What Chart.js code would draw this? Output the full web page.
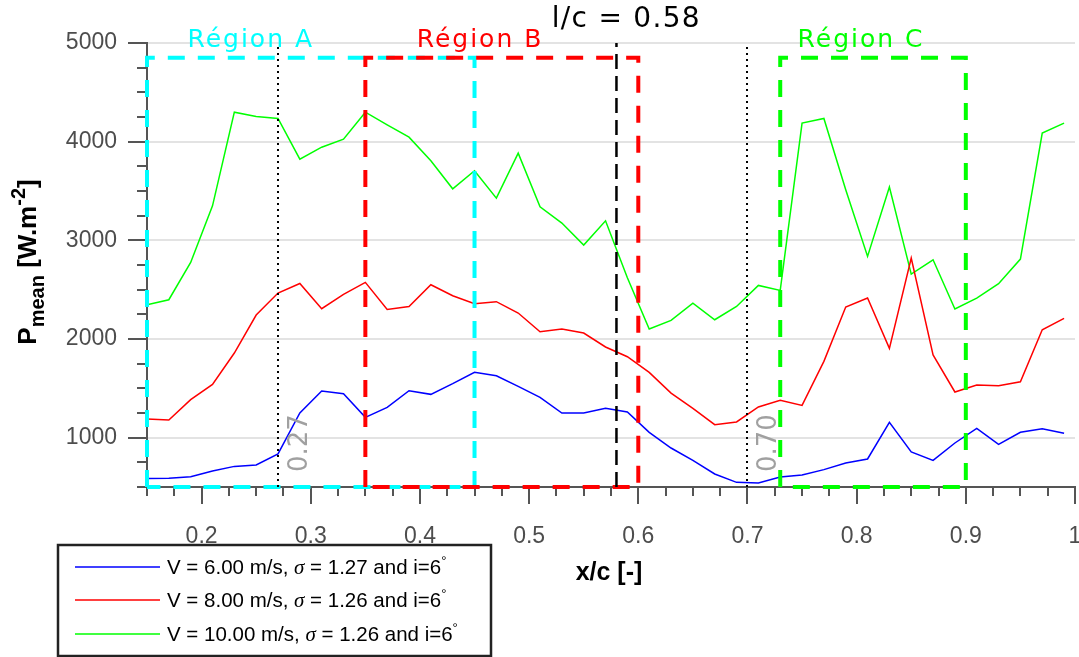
<!DOCTYPE html>
<html>
<head>
<meta charset="utf-8">
<script src="https://cdn.jsdelivr.net/npm/chart.js@4.4.0/dist/chart.umd.min.js"></script>
<style>
  html, body { margin: 0; padding: 0; background: #fff; }
  #wrap { width: 1079px; height: 657px; }
</style>
</head>
<body>
<div id="wrap"><canvas id="pmeanChart" width="1079" height="657"></canvas></div>
<script>
// --- Data ---
const xPositions = [0.15, 0.17, 0.19, 0.21, 0.23, 0.25, 0.27, 0.29, 0.31, 0.33, 0.35,
    0.37, 0.39, 0.41, 0.43, 0.45, 0.47, 0.49, 0.51, 0.53, 0.55, 0.57, 0.59,
    0.61, 0.63, 0.65, 0.67, 0.69, 0.71, 0.73, 0.75, 0.77, 0.79, 0.81,
    0.83, 0.85, 0.87, 0.89, 0.91, 0.93, 0.95, 0.97, 0.99];

const pmeanV6 = [585, 588, 605, 663, 709, 723, 835, 1250, 1473, 1446, 1206,
    1307, 1476, 1439, 1547, 1662, 1628, 1520, 1408, 1250, 1250, 1297, 1260,
    1054, 895, 770, 632, 547, 540, 602, 622, 676, 744, 784,
    1155, 855, 770, 946, 1094, 932, 1054, 1091, 1044];

const pmeanV8 = [1189, 1179, 1385, 1540, 1858, 2243, 2466, 2563, 2307, 2452, 2574,
    2300, 2330, 2550, 2438, 2357, 2378, 2263, 2074, 2101, 2060, 1919, 1820,
    1662, 1452, 1297, 1132, 1159, 1311, 1378, 1327, 1773, 2324, 2415,
    1905, 2820, 1838, 1463, 1534, 1527, 1567, 2094, 2209];

const pmeanV10 = [2347, 2398, 2776, 3350, 4299, 4255, 4235, 3823, 3944, 4025, 4299,
    4170, 4046, 3806, 3522, 3705, 3428, 3884, 3340, 3175, 2952, 3198, 2620,
    2101, 2188, 2364, 2195, 2330, 2543, 2492, 4188, 4235, 3512, 2837,
    3540, 2658, 2803, 2304, 2415, 2560, 2810, 4087, 4188];

const seriesColors = ['#0000ff', '#ff0000', '#00ff00'];
const legendSpeeds = ['6.00', '8.00', '10.00'];
const legendSigmas = ['1.27', '1.26', '1.26'];
const legendIncidence = '6';

const xMajorTicks = [0.2, 0.3, 0.4, 0.5, 0.6, 0.7, 0.8, 0.9, 1.0];
const xTickLabels = ['0.2', '0.3', '0.4', '0.5', '0.6', '0.7', '0.8', '0.9', '1'];
const yMajorTicks = [1000, 2000, 3000, 4000, 5000];
const yTickLabels = ['1000', '2000', '3000', '4000', '5000'];

// regions and markers
const regionNames = ['Région A', 'Région B', 'Région C'];
const regionStart = [0.15, 0.35, 0.73];
const regionEnd = [0.45, 0.60, 0.90];
const regionTop = 4850;
const regionColors = ['#00ffff', '#ff0000', '#00ff00'];
const regionLabelX = [0.245, 0.455, 0.804];
const lcPosition = 0.58;
const lcLabel = 'l/c = 0.58';
const dottedPositions = [0.27, 0.70];
const dottedLabels = ['0.27', '0.70'];

const isNear = (a, b) => Math.abs(a - b) < 1e-6;

// draw a run of text pieces with their own font / vertical shift
const drawParts = (ctx, parts, x, y) => {
    parts.forEach(p => {
        ctx.font = p.font;
        ctx.fillText(p.text, x, y + (p.dy || 0));
        x += ctx.measureText(p.text).width;
    });
};
const partsWidth = (ctx, parts) => parts.reduce((w, p) => {
    ctx.font = p.font;
    return w + ctx.measureText(p.text).width;
}, 0);

const overlayPlugin = {
    id: 'overlay',
    afterDraw(chart) {
        const { ctx, chartArea: area, scales: { x, y } } = chart;
        ctx.save();

        // --- tick marks (outside) ---
        ctx.strokeStyle = '#555';
        ctx.lineWidth = 2;
        x.ticks.forEach(t => {
            const px = Math.round(x.getPixelForValue(t.value));
            const len = xMajorTicks.some(m => isNear(m, t.value)) ? 17 : 9;
            ctx.beginPath();
            ctx.moveTo(px, area.bottom);
            ctx.lineTo(px, area.bottom + len);
            ctx.stroke();
        });
        y.ticks.forEach(t => {
            const py = Math.round(y.getPixelForValue(t.value));
            const len = yMajorTicks.includes(t.value) ? 19 : 10;
            ctx.beginPath();
            ctx.moveTo(area.left, py);
            ctx.lineTo(area.left - len, py);
            ctx.stroke();
        });

        // --- region rectangles ---
        ctx.lineWidth = 4;
        ctx.setLineDash([17, 13]);
        regionNames.forEach((name, i) => {
            const x0 = x.getPixelForValue(regionStart[i]);
            const x1 = x.getPixelForValue(regionEnd[i]);
            const y0 = y.getPixelForValue(regionTop);
            const y1 = y.getPixelForValue(y.min);
            ctx.strokeStyle = regionColors[i];
            ctx.beginPath();
            ctx.moveTo(x0, y1);
            ctx.lineTo(x0, y0);
            ctx.lineTo(x1, y0);
            ctx.lineTo(x1, y1);
            ctx.lineTo(x0, y1);
            ctx.stroke();
        });

        // --- l/c dashed line ---
        const lx = x.getPixelForValue(lcPosition);
        ctx.strokeStyle = '#000';
        ctx.lineWidth = 2.5;
        ctx.setLineDash([15, 7]);
        ctx.beginPath();
        ctx.moveTo(lx, area.bottom);
        ctx.lineTo(lx, area.top);
        ctx.stroke();

        // --- dotted lines ---
        ctx.lineWidth = 2;
        ctx.setLineDash([2, 4]);
        dottedPositions.forEach(v => {
            const px = Math.round(x.getPixelForValue(v));
            ctx.beginPath();
            ctx.moveTo(px, area.bottom);
            ctx.lineTo(px, area.top);
            ctx.stroke();
        });
        ctx.setLineDash([]);

        // rotated labels next to dotted lines
        ctx.fillStyle = '#a0a0a0';
        ctx.font = '26px "DejaVu Sans"';
        ctx.textAlign = 'left';
        ctx.textBaseline = 'alphabetic';
        dottedLabels.forEach((label, i) => {
            const px = x.getPixelForValue(dottedPositions[i]);
            ctx.save();
            ctx.translate(px + 29, area.bottom - 15);
            ctx.rotate(-Math.PI / 2);
            ctx.fillText(label, 0, 0);
            ctx.restore();
        });

        // --- region labels ---
        ctx.textAlign = 'center';
        ctx.font = '25px "DejaVu Sans"';
        ctx.letterSpacing = '2px';
        regionNames.forEach((name, i) => {
            ctx.fillStyle = regionColors[i];
            ctx.fillText(name, x.getPixelForValue(regionLabelX[i]), 47);
        });
        ctx.fillStyle = '#000';
        ctx.font = '28px "DejaVu Sans"';
        ctx.letterSpacing = '1.3px';
        ctx.fillText(lcLabel, x.getPixelForValue(0.589), 27);
        ctx.letterSpacing = '0px';

        // --- axis titles ---
        ctx.fillStyle = '#000';
        ctx.textAlign = 'center';
        ctx.font = 'bold 25px "Liberation Sans"';
        ctx.fillText('x/c [-]', 609, 580);

        const bold = s => `bold ${s}px "Liberation Sans"`;
        const yTitle = [
            { text: 'P', font: bold(26) },
            { text: 'mean', font: bold(20), dy: 8 },
            { text: ' [W.m', font: bold(26) },
            { text: '-2', font: bold(20), dy: -11 },
            { text: ']', font: bold(26) }
        ];
        ctx.save();
        ctx.translate(36, 262);
        ctx.rotate(-Math.PI / 2);
        ctx.textAlign = 'left';
        drawParts(ctx, yTitle, -partsWidth(ctx, yTitle) / 2, 0);
        ctx.restore();

        // --- legend box ---
        ctx.fillStyle = '#fff';
        ctx.fillRect(58, 545, 433, 111);
        ctx.strokeStyle = '#222';
        ctx.lineWidth = 2.5;
        ctx.strokeRect(58, 545, 433, 111);
        const rowY = [567, 600, 634];
        ctx.textAlign = 'left';
        chart.data.datasets.forEach((ds, i) => {
            ctx.strokeStyle = ds.borderColor;
            ctx.lineWidth = 1.5;
            ctx.beginPath();
            ctx.moveTo(75, rowY[i]);
            ctx.lineTo(160, rowY[i]);
            ctx.stroke();
            ctx.fillStyle = '#000';
            const sans = '20.5px "Liberation Sans"';
            drawParts(ctx, [
                { text: `V = ${legendSpeeds[i]} m/s, `, font: sans },
                { text: 'σ', font: 'italic 21px "Liberation Serif"' },
                { text: ` = ${legendSigmas[i]} and i=${legendIncidence}`, font: sans },
                { text: '°', font: '13px "Liberation Sans"', dy: -9 }
            ], 167, rowY[i] + 7);
        });

        ctx.restore();
    }
};

const makeSeries = vals => xPositions.map((xv, i) => ({ x: xv, y: vals[i] }));

const ctx = document.getElementById('pmeanChart').getContext('2d');
new Chart(ctx, {
    type: 'line',
    data: {
        datasets: [pmeanV6, pmeanV8, pmeanV10].map((vals, i) => ({
            label: `V = ${legendSpeeds[i]} m/s`,
            data: makeSeries(vals),
            borderColor: seriesColors[i],
            borderWidth: 1.5,
            pointRadius: 0,
            fill: false,
            tension: 0
        }))
    },
    options: {
        responsive: false,
        animation: false,
        devicePixelRatio: 1,
        layout: { padding: { top: 43, right: 4, left: 0, bottom: 0 } },
        plugins: {
            legend: { display: false },
            tooltip: { enabled: false }
        },
        scales: {
            x: {
                type: 'linear',
                min: 0.15,
                max: 1.0,
                afterFit: s => {
                    s.height = 170;
                    s.paddingLeft = 0;
                    s.paddingRight = 0;
                },
                grid: { drawOnChartArea: false, drawTicks: false },
                border: { color: '#555', width: 2 },
                ticks: {
                    stepSize: 0.025,
                    autoSkip: false,
                    maxRotation: 0,
                    padding: 36,
                    color: '#4d4d4d',
                    font: { family: 'Liberation Sans', size: 23 },
                    callback: v => {
                        const k = xMajorTicks.findIndex(m => isNear(m, v));
                        return k >= 0 ? xTickLabels[k] : '';
                    }
                }
            },
            y: {
                min: 500,
                max: 5000,
                afterFit: s => {
                    s.width = 147;
                    s.paddingTop = 0;
                    s.paddingBottom = 0;
                },
                grid: {
                    drawTicks: false,
                    color: c => yMajorTicks.includes(c.tick.value) ? '#e3e3e3' : 'transparent',
                    lineWidth: 2
                },
                border: { color: '#555', width: 2 },
                ticks: {
                    stepSize: 250,
                    autoSkip: false,
                    padding: 30,
                    color: '#4d4d4d',
                    font: { family: 'Liberation Sans', size: 23 },
                    callback: v => {
                        const k = yMajorTicks.indexOf(v);
                        return k >= 0 ? yTickLabels[k] : '';
                    }
                }
            }
        }
    },
    plugins: [overlayPlugin]
});
</script>
</body>
</html>
